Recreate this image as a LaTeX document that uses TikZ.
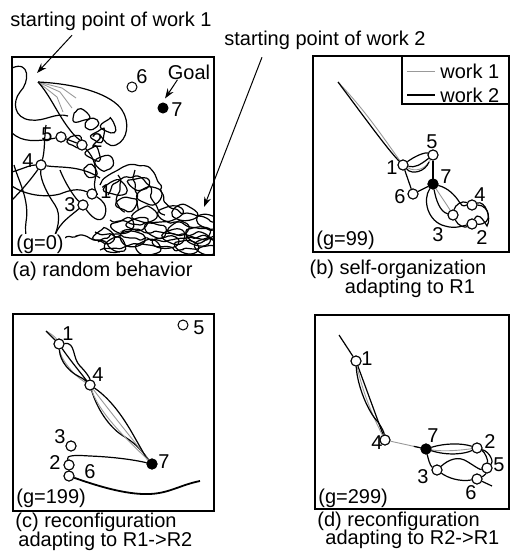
\documentclass[tikz,border=0pt]{standalone}
\usepackage{fontspec}
\setmainfont{Liberation Sans}
\usetikzlibrary{arrows.meta,decorations.pathmorphing}

\begin{document}
\begin{tikzpicture}[x=0.5pt,y=-0.5pt,
  agent/.style = {shape = circle,
                  draw,
                  fill = white,
                  inner sep = 0pt,
                  line width = 0.5pt,
                  minimum size = 5pt},
  goal/.style = {agent, fill = black},
  lbl/.style = {inner sep = 0pt, font = \fontsize{10}{9.5}\selectfont},
  frame/.style = {draw, line width = 0.6pt},
  work1/.style = {draw = black!40, line width = 0.45pt},
  work2/.style = {draw = black, line width = 0.6pt},
  rough/.style = {work2, decorate,
                  decoration = {random steps, segment length = 2.5pt, amplitude = 1pt},
                  rounded corners = 0.6pt},
  pointer/.style = {draw, line width = 0.5pt, -{Stealth[length = 5pt, width = 3.5pt]}}]

\useasboundingbox (0,0) rectangle (511,557);
\pgfmathsetseed{11}

% labels on top
\node[lbl] (t1) at (111,21) {starting point of work 1};
\node[lbl] (t2) at (325,40) {starting point of work 2};

% ---------- (a) g=0 ----------
\draw[frame] (12,57) rectangle (214,255);
\coordinate (s1) at (38,82);
\coordinate (s1tip) at (37,73);
\coordinate (s2tip) at (204,207);
\node[agent] (a1) at (92,194) {};
\node[agent] (a2) at (82,145) {};
\node[agent] (a3) at (83,205) {};
\node[agent] (a4) at (41,165) {};
\node[agent] (a5) at (61,137) {};
\node[agent] (a6) at (132,87) {};
\node[goal] (a7) at (163,108) {};
\begin{scope}
  \clip (12,57) rectangle (214,255);
  % work 1 fan
  \draw[work1] (s1) -- (60,92) -- (72,108);
  \draw[work1] (s1) -- (62,88) -- (76,98);
  \draw[work1] (s1) -- (57,97) -- (63,112);
  % wandering of work 2
  \draw[work2] (s1) .. controls (80,84) and (112,95) .. (122,110) .. controls (130,122) and (128,140) .. (116,145) .. controls (108,148) and (104,140) .. (100,135);
  \draw[work2] (s1) .. controls (50,95) and (58,115) .. (70,130) .. controls (76,138) and (80,140) .. (a2);
  \draw[work2] (12,68) .. controls (30,60) and (30,82) .. (20,92) .. controls (12,102) and (14,118) .. (30,120) .. controls (45,122) and (55,112) .. (68,116);
  \draw[work2] (12,133) .. controls (22,142) and (35,142) .. (a5);
  \draw[work2] (46,125) .. controls (44,140) and (45,150) .. (a4) .. controls (40,180) and (48,195) .. (55,205) .. controls (62,215) and (58,232) .. (50,245);
  \draw[work2] (12,172) .. controls (25,168) and (30,165) .. (a4) .. controls (60,168) and (80,165) .. (100,178);
  \draw[work2] (12,186) .. controls (25,195) and (45,198) .. (60,194) .. controls (70,190) and (78,188) .. (a1);
  \draw[work2] (14,165) .. controls (18,180) and (30,200) .. (26,222) .. controls (24,235) and (30,245) .. (20,255);
  \draw[work2] (a4) .. controls (32,178) and (22,190) .. (12,200);
  \draw[work2] (60,170) .. controls (66,185) and (75,198) .. (a3);
  \draw[work2] (a3) .. controls (72,215) and (60,222) .. (55,235);
  \draw[work2] (a2) .. controls (95,158) and (97,170) .. (95,180) .. controls (93,190) and (98,195) .. (a1);
  \draw[work2] (a1) .. controls (102,200) and (108,205) .. (105,215) .. controls (102,222) and (95,222) .. (a3);
  \draw[work2] (a5) -- (a2);
  % upper blob of the tangle
  \draw[rough] (100,185) .. controls (110,165) and (145,160) .. (155,175) .. controls (165,190) and (160,200) .. (172,208) .. controls (185,215) and (200,215) .. (214,222);
  \draw[rough] (108,195) .. controls (115,178) and (135,172) .. (145,182) .. controls (152,190) and (150,205) .. (165,215);
  \draw[rough] (118,175) .. controls (122,190) and (112,200) .. (125,212);
  \draw[rough] (135,170) .. controls (132,185) and (140,195) .. (138,210);
  % dense band of the tangle
  \draw[rough] (95,232) -- (130,238) -- (170,240) -- (214,236);
  \draw[rough] (100,250) -- (140,244) -- (180,250) -- (214,246);
  \draw[rough] (110,220) -- (140,225) -- (175,222) -- (214,230);
  \draw[rough] (98,242) -- (125,230) -- (160,232) -- (214,240);
  \draw[rough] (60,240) -- (80,235) -- (100,240) -- (120,252);
  \foreach \cx/\cy in {80/116,92/124,98/136,74/142,94/154,104/164,110/126,90/172} {
    \draw[work2] plot[smooth cycle, tension=0.8] coordinates {({\cx-8+3*rand},{\cy+2*rand}) ({\cx-3+3*rand},{\cy-5+2*rand}) ({\cx+4+3*rand},{\cy-6+2*rand}) ({\cx+8+3*rand},{\cy+2*rand}) ({\cx+3+3*rand},{\cy+6+2*rand}) ({\cx-4+3*rand},{\cy+5+2*rand})};
  }
  \foreach \cx/\cy in {104/236,116/246,122/226,134/238,146/214,148/248,156/230,166/242,170/214,180/228,186/246,196/234,206/222,208/246,128/204,150/196,184/212,118/188,140/184,198/240,174/236,138/224} {
    \draw[work2] plot[smooth cycle, tension=0.8] coordinates {({\cx-12+3*rand},{\cy+3*rand}) ({\cx-5+3*rand},{\cy-6+2*rand}) ({\cx+5+3*rand},{\cy-7+2*rand}) ({\cx+12+3*rand},{\cy+3*rand}) ({\cx+5+3*rand},{\cy+7+2*rand}) ({\cx-5+3*rand},{\cy+6+2*rand})};
  }
\end{scope}
% redraw agents over the paths
\foreach \n in {1,2,3,4,5} {\node[agent] at (a\n) {};}
\node[lbl] (a1l) at (106,192) {1};
\node[lbl] (a2l) at (97,141) {2};
\node[lbl] (a3l) at (70,205) {3};
\node[lbl] (a4l) at (28,161) {4};
\node[lbl] (a5l) at (47,135) {5};
\node[lbl] (a6l) at (142,77) {6};
\node[lbl] (a7l) at (177,110) {7};
\node[lbl] (goal) at (189,72) {Goal};
\draw[pointer] ([xshift=5pt]goal.south west) -- ([shift={(1pt,2pt)}]a7.north);
\draw[pointer] ([xshift=-19.5pt,yshift=-2.25pt]t1.south) -- (s1tip);
\draw[pointer] ([xshift=-31.5pt,yshift=-3.75pt]t2.south) -- (s2tip);
\node[lbl, anchor=west, fill=white, inner sep=0.5pt] (ga) at (15,244) {(g=0)};
\node[lbl, anchor=west] (capa) at (12,271) {(a) random behavior};

% ---------- (b) g=99 ----------
\draw[frame] (313,56) rectangle (509,252);
\draw[frame] (402,56) rectangle (509,104);
\draw[work1] (407,71) -- (435,71);
\node[lbl, anchor=west] (leg1) at (440,71) {work 1};
\draw[work2] (407,95) -- (435,95);
\node[lbl, anchor=west] (leg2) at (440,95) {work 2};
\coordinate (bs) at (338,82);
\node[agent] (b1) at (403,165) {};
\node[agent] (b5) at (433,155) {};
\node[goal] (b7) at (433,184) {};
\node[agent] (b6) at (413,194) {};
\node[agent] (b4) at (472,205) {};
\node[agent] (b3) at (453,215) {};
\node[agent] (b2) at (472,224) {};
\draw[work1] (bs) .. controls (365,110) and (385,140) .. (b1);
\draw[work2] (bs) .. controls (362,114) and (388,150) .. (b1);
\draw[work2] (b1) -- (b6);
\draw[work2] (b5) -- (b7);
\draw[work2] (b6) -- (b7);
\draw[work2] (b1) .. controls (415,156) and (425,152) .. (b5);
\draw[work1] (b1) .. controls (415,172) and (425,170) .. (b5);
\draw[work2] (b1) .. controls (412,175) and (425,172) .. (429,162);
\draw[work2] (b1) .. controls (415,168) and (420,165) .. (b5);
\draw[work2] (b7) .. controls (422,200) and (428,222) .. (445,226) .. controls (455,229) and (462,226) .. (b2);
\draw[work2] (b7) .. controls (448,188) and (455,195) .. (460,203) .. controls (463,208) and (466,205) .. (b4);
\draw[work2] (b7) .. controls (436,200) and (440,212) .. (b3);
\draw[work1] (b7) .. controls (440,195) and (447,205) .. (b3);
\draw[work2] (b4) .. controls (485,200) and (492,218) .. (487,226) .. controls (482,218) and (478,212) .. (b2);
\draw[work2] (b4) .. controls (490,205) and (494,225) .. (b2);
\draw[work2] (b3) .. controls (458,226) and (465,228) .. (b2);
\draw[work2] (b3) .. controls (455,205) and (462,200) .. (b4);
\foreach \n in {1,2,3,4,5,6} {\node[agent] at (b\n) {};}
\node[goal] at (b7) {};
\node[lbl] (b1l) at (392,168) {1};
\node[lbl] (b2l) at (482,238) {2};
\node[lbl] (b3l) at (438,235) {3};
\node[lbl] (b4l) at (480,195) {4};
\node[lbl] (b5l) at (432,142) {5};
\node[lbl] (b6l) at (400,197) {6};
\node[lbl] (b7l) at (446,177) {7};
\node[lbl, anchor=west] (gb) at (316,240) {(g=99)};
\node[lbl] (capb1) at (398,269) {(b) self-organization};
\node[lbl] (capb2) at (410,288) {adapting to R1};

% ---------- (c) g=199 ----------
\draw[frame] (13,314) rectangle (214,511);
\coordinate (cs) at (46,331);
\coordinate (ce) at (200,481);
\node[agent] (c1) at (59,344) {};
\node[agent] (c5) at (183,325) {};
\node[agent] (c4) at (90,385) {};
\node[agent] (c3) at (71,446) {};
\node[agent] (c2) at (69,465) {};
\node[agent] (c6) at (69,476) {};
\node[goal] (c7) at (152,464) {};
\draw[work1] (cs) .. controls (52,334) and (56,338) .. (c1);
\draw[work2] (cs) -- (c1);
\draw[work2] (c1) .. controls (70,360) and (80,372) .. (c4);
\draw[work1] (c1) .. controls (60,358) and (74,376) .. (c4);
\draw[work2] (c1) .. controls (76,342) and (72,358) .. (80,366) .. controls (86,372) and (90,378) .. (c4);
\draw[work2] (c1) .. controls (60,362) and (70,372) .. (78,376) .. controls (84,379) and (86,381) .. (c4);
\draw[work2] (c4) .. controls (98,412) and (112,430) .. (125,437) .. controls (138,445) and (145,455) .. (c7);
\draw[work1] (c4) .. controls (105,405) and (125,430) .. (c7);
\draw[work2] (c4) .. controls (112,400) and (125,420) .. (135,438) .. controls (142,450) and (146,458) .. (c7);
\draw[work1] (c4) .. controls (100,415) and (130,442) .. (c7);
\draw[work2] (c2) .. controls (66,455) and (75,455) .. (90,456) .. controls (115,457) and (135,460) .. (c7);
\draw[work2, line width=0.9pt] (c6) .. controls (95,485) and (125,495) .. (150,494) .. controls (170,493) and (180,485) .. (ce);
\foreach \n in {1,2,3,4,6} {\node[agent] at (c\n) {};}
\node[goal] at (c7) {};
\node[lbl] (c1l) at (68,334) {1};
\node[lbl] (c2l) at (55,463) {2};
\node[lbl] (c3l) at (60,437) {3};
\node[lbl] (c4l) at (98,375) {4};
\node[lbl] (c5l) at (199,328) {5};
\node[lbl] (c6l) at (90,472) {6};
\node[lbl] (c7l) at (164,462) {7};
\node[lbl, anchor=west] (gc) at (16,498) {(g=199)};
\node[lbl, anchor=west] (capc1) at (15,522) {(c) reconfiguration};
\node[lbl, anchor=west] (capc2) at (18,541) {adapting to R1->R2};

% ---------- (d) g=299 ----------
\draw[frame] (315,315) rectangle (509,509);
\coordinate (ds) at (339,335);
\coordinate (de) at (492,486);
\node[agent] (d1) at (356,361) {};
\node[agent] (d4) at (385,440) {};
\node[goal] (d7) at (426,449) {};
\node[agent] (d2) at (477,448) {};
\node[agent] (d5) at (487,468) {};
\node[agent] (d6) at (477,479) {};
\node[agent] (d3) at (437,470) {};
\draw[work2] (ds) -- (d1);
\draw[work2] (d1) -- (d4);
\draw[work1] (d1) .. controls (362,390) and (372,415) .. (d4);
\draw[work2] (d1) .. controls (357,385) and (368,412) .. (378,422) .. controls (382,428) and (384,432) .. (d4);
\draw[work1] (d4) -- (d7);
\draw[work2, shorten <=12pt] (d4) -- (d7);
\draw[work2] (d7) .. controls (445,443) and (462,443) .. (d2);
\draw[work1] (d7) .. controls (445,452) and (462,450) .. (d2);
\draw[work2] (d7) .. controls (448,456) and (465,454) .. (d2);
\draw[work2] (d2) .. controls (485,452) and (488,460) .. (d5);
\draw[work2] (d2) .. controls (490,452) and (494,462) .. (d5);
\draw[work2] (d5) .. controls (486,474) and (482,477) .. (d6);
\draw[work2] (d7) .. controls (428,458) and (430,466) .. (d3);
\draw[work2] (d3) .. controls (448,460) and (458,455) .. (468,462) .. controls (476,467) and (480,470) .. (d5);
\draw[work2] (d3) .. controls (448,478) and (460,482) .. (d6);
\draw[work2] (d6) -- (de);
\foreach \n in {1,2,3,4,5,6} {\node[agent] at (d\n) {};}
\node[goal] at (d7) {};
\node[lbl] (d1l) at (367,359) {1};
\node[lbl] (d2l) at (490,442) {2};
\node[lbl] (d3l) at (423,477) {3};
\node[lbl] (d4l) at (377,443) {4};
\node[lbl] (d5l) at (499,465) {5};
\node[lbl] (d6l) at (471,493) {6};
\node[lbl] (d7l) at (433,436) {7};
\node[lbl, anchor=west] (gd) at (318,498) {(g=299)};
\node[lbl, anchor=west] (capd1) at (317,521) {(d) reconfiguration};
\node[lbl, anchor=west] (capd2) at (325,539) {adapting to R2->R1};
\end{tikzpicture}
\end{document}
